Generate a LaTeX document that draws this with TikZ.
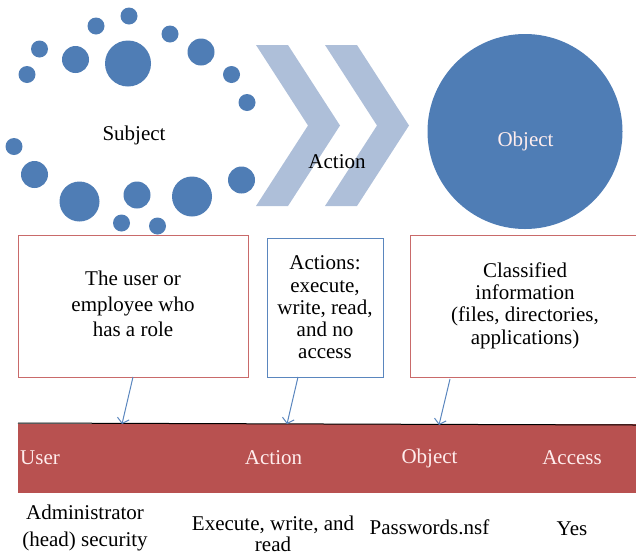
\documentclass[tikz,border=0pt]{standalone}
\usepackage{fontspec}
\setmainfont{Liberation Serif}
\usetikzlibrary{arrows.meta}
\definecolor{dotblue}{HTML}{4F7DB5}
\definecolor{chev}{HTML}{AEBFD9}
\definecolor{redfill}{HTML}{B85150}
\definecolor{redline}{HTML}{C96A6A}
\definecolor{blueline}{HTML}{5A86BE}
\tikzset{
  dot/.style={circle,fill=dotblue,draw=none,inner sep=0pt,minimum size=#1},
  chevron/.style={fill=chev,draw=none},
  redbox/.style={draw=redline,line width=0.9pt,fill=white,inner sep=0pt,align=center},
  bluebox/.style={draw=blueline,line width=0.9pt,fill=white,inner sep=0pt,align=center},
  lab/.style={inner sep=0pt,align=center,font=\fontsize{21}{22.3}\selectfont},
  whitelab/.style={lab,text=white!93!red},
  link/.style={draw=blueline,line width=1pt,-{Straight Barb[length=5pt,width=12pt]}}
}
\begin{document}
\begin{tikzpicture}[x=1pt,y=-1pt]
\useasboundingbox (0,0) rectangle (636,555);
% dots
\foreach \n/\cx/\cy/\d in {a/129/16/17,b/96/26/17,c/170/34/17,d/39.5/49/17,e/27/74.5/17,f/75.5/59.5/27,g/128/63.5/46,h/201/52/27,i/231.5/74.5/17,j/247/102.5/17,k/14/146.5/17,l/34.5/174.5/27,m/79.5/201.5/40,n/137/195/27,o/192/196.5/40,p/241.5/180/27,q/121.5/223/17,r/157.5/226/17}
  \node[dot=\d pt] (dot\n) at (\cx,\cy) {};
% chevrons
\fill[chevron] (256,45) -- (288,45) -- (340,125.5) -- (288,206) -- (256,206) -- (308,125.5) -- cycle;
\fill[chevron] (325,45) -- (357,45) -- (409,125.5) -- (357,206) -- (325,206) -- (377,125.5) -- cycle;
% big circle
\node[dot=195pt] (bigobj) at (525,131.5) {};
% labels on top
\node[lab] (subj) at (134,135.5) {Subject};
\node[lab] (act) at (337,162) {Action};
\node[whitelab] (obj) at (525.5,141) {Object};
% boxes
\node[redbox,minimum width=230pt,minimum height=142pt] (box1) at (133,306) {};
\node[lab,font=\fontsize{21}{25.5}\selectfont] (box1t) at (133,304) {The user or\\employee who\\has a role};
\node[bluebox,minimum width=116pt,minimum height=139pt] (box2) at (325,307.5) {};
\node[lab] (box2t) at (325,307.5) {Actions:\\execute,\\write, read,\\and no\\access};
\draw[draw=redline,line width=0.9pt] (636,235) -- (410,235) -- (410,377) -- (636,377);
\node[lab] (box3t) at (525,305.5) {Classified\\information\\(files, directories,\\applications)};
% strip
\fill[redfill] (18,423.5) rectangle (636,493);
\coordinate (stripl) at (18,423);
\coordinate (stripr) at (636,425);
\draw[black,line width=1pt] (stripl) -- (stripr);
\node[whitelab] (h1) at (40,458) {User};
\node[whitelab] (h2) at (273.5,458) {Action};
\node[whitelab] (h3) at (429.5,458.5) {Object};
\node[whitelab] (h4) at (572,458) {Access};
\node[lab,font=\fontsize{21}{27}\selectfont] (c1) at (85,527.5) {Administrator\\(head) security};
\node[lab,font=\fontsize{21}{21}\selectfont] (c2) at (273,534) {Execute, write, and\\read};
\node[lab] (c3) at (429.5,527) {Passwords.nsf};
\node[lab] (c4) at (572,528.5) {Yes};
% connectors
\coordinate (s1) at (133,377);
\coordinate (e1) at (122,424);
\coordinate (s2) at (298,377);
\coordinate (e2) at (287,424);
\coordinate (s3) at (450,379);
\coordinate (e3) at (439,425);
\draw[link] (s1) -- (e1);
\draw[link] (s2) -- (e2);
\draw[link] (s3) -- (e3);
\end{tikzpicture}
\end{document}
